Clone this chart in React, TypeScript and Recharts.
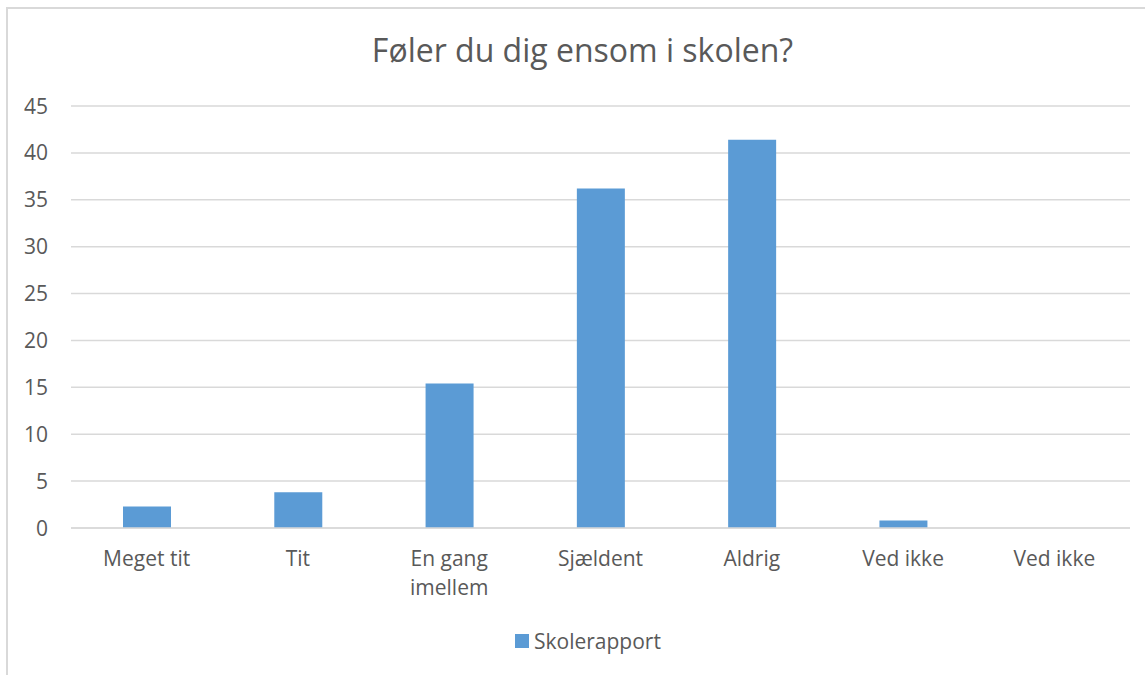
import React from 'react';
import { BarChart, Bar, XAxis, YAxis, CartesianGrid } from 'recharts';

const categories = ['Meget tit', 'Tit', 'En gang imellem', 'Sjældent', 'Aldrig', 'Ved ikke', 'Ved ikke'];
const skolerapport = [2.3, 3.8, 15.4, 36.2, 41.4, 0.8, 0];
const yTicks = [0, 5, 10, 15, 20, 25, 30, 35, 40, 45];

const labelLines: Record<string, string[]> = {
  'En gang imellem': ['En gang', 'imellem'],
};

const textColor = '#595959';
const gridColor = '#d9d9d9';
const barColor = '#5b9bd5';
const font = '"Open Sans", sans-serif';

const data = categories.map((c, i) => ({ idx: i, name: c, value: skolerapport[i] }));

const XTick = (props: any) => {
  const { x, y, payload } = props;
  const name = categories[payload.value];
  const lines = labelLines[name] || [name];
  return (
    <text x={x} y={y + 38} textAnchor="middle" fill={textColor} fontSize={21} fontFamily={font}>
      {lines.map((l, i) => (
        <tspan key={i} x={x} dy={i === 0 ? 0 : 29}>{l}</tspan>
      ))}
    </text>
  );
};

const YTick = (props: any) => {
  const { y, payload } = props;
  return (
    <text x={48} y={y + 7.5} textAnchor="end" fill={textColor} fontSize={21} fontFamily={font}>
      {payload.value}
    </text>
  );
};

export default function App() {
  return (
    <div style={{ position: 'absolute', left: 0, top: 0, width: 1145, height: 675, background: '#fff', overflow: 'hidden', fontFamily: font }}>
      <div style={{ position: 'absolute', left: 6, top: 7, width: 1200, height: 700, borderLeft: `2px solid ${gridColor}`, borderTop: `2px solid ${gridColor}` }} />
      <div style={{ position: 'absolute', left: 0, top: 62 - 34, width: 1165, textAlign: 'center', fontSize: 32, color: textColor, lineHeight: '44px' }}>
        Føler du dig ensom i skolen?
      </div>
      <div style={{ position: 'absolute', left: 0, top: 0 }}>
        <BarChart width={1145} height={675} data={data} margin={{ top: 106, right: 15, bottom: 0, left: 0 }} barSize={48}>
          <CartesianGrid vertical={false} stroke={gridColor} strokeWidth={1.5} />
          <XAxis dataKey="idx" height={147} axisLine={{ stroke: gridColor, strokeWidth: 1.5 }} tickLine={false} tickSize={0} tickMargin={0} tick={<XTick />} interval={0} />
          <YAxis width={71} domain={[0, 45]} ticks={yTicks} axisLine={false} tickLine={false} tick={<YTick />} />
          <Bar dataKey="value" fill={barColor} isAnimationActive={false} />
        </BarChart>
      </div>
      <div style={{ position: 'absolute', left: 515, top: 626, display: 'flex', alignItems: 'center', fontSize: 21, color: textColor, lineHeight: '30px' }}>
        <span style={{ display: 'inline-block', width: 14, height: 14, background: barColor, marginRight: 5 }} />
        Skolerapport
      </div>
    </div>
  );
}
